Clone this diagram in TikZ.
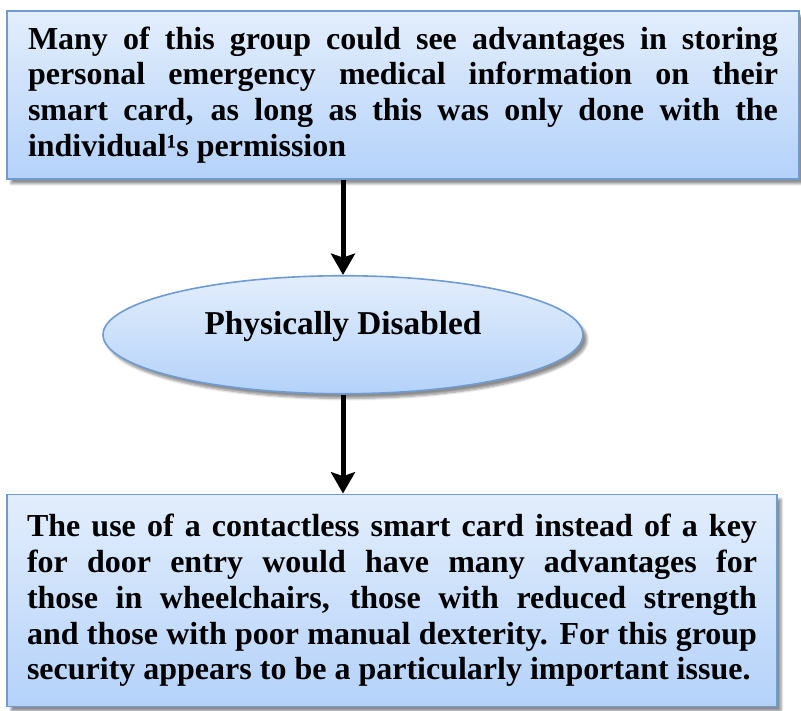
\documentclass[tikz,border=0pt]{standalone}
\usepackage{fontspec}
\setmainfont{Liberation Serif}
\usepackage{xcolor}
\definecolor{boxtop}{HTML}{E3EEFC}
\definecolor{boxbot}{HTML}{B4D2FA}
\definecolor{boxline}{HTML}{6E9BD2}
\usepackage{tikz}
\usetikzlibrary{shapes.geometric, arrows.meta, positioning, shadows.blur}
\tikzset{
  notebox/.style ={rectangle, draw=boxline, line width=1.4pt, top color=boxtop, bottom color=boxbot,
                   blur shadow={shadow xshift=3pt, shadow yshift=-3.5pt, shadow blur steps=6, shadow opacity=45},
                   text=black, align=justify, inner ysep=0pt, font=\fontsize{24}{26.8}\selectfont\bfseries},
  groupell/.style={ellipse, draw=boxline, line width=1.2pt, top color=boxtop, bottom color=boxbot,
                   blur shadow={shadow xshift=3pt, shadow yshift=-3.5pt, shadow blur steps=6, shadow opacity=45},
                   text=black, inner sep=0pt, text height=17pt, text depth=17pt, font=\fontsize{25}{28}\selectfont\bfseries},
  darr/.style    ={-{Stealth[length=16pt, width=18pt, inset=3pt]}, line width=3.75pt, color=black},
}
\begin{document}
\begin{tikzpicture}
  \useasboundingbox (0,0) rectangle (600.75pt,-533.25pt);
  \node[notebox, minimum width=594pt, minimum height=126pt, text width=562.5pt, inner xsep=15.75pt] (info) at (302.25pt,-71.25pt)
    {Many of this group could see advantages in storing\linebreak personal emergency medical information on their\linebreak smart card, as long as this was only done with the\linebreak individual¹s permission};
  \node[groupell, minimum width=360pt, minimum height=88.5pt, below=71.25pt of info, xshift=-45pt] (ell) {Physically Disabled};
  \node[notebox, minimum width=577.5pt, minimum height=159pt, text width=547.5pt, inner xsep=15pt, below=74.25pt of ell, xshift=36.75pt] (door)
    {The use of a contactless smart card instead of a key\linebreak for door entry would have many advantages for\linebreak those in wheelchairs, those with reduced strength\linebreak and those with poor manual dexterity. For this group\linebreak security appears to be a particularly important issue.};
  \draw[darr] (info.south -| ell.center) -- (ell.north); \draw[darr] (ell.south) -- (ell.south |- door.north);
\end{tikzpicture}
\end{document}
